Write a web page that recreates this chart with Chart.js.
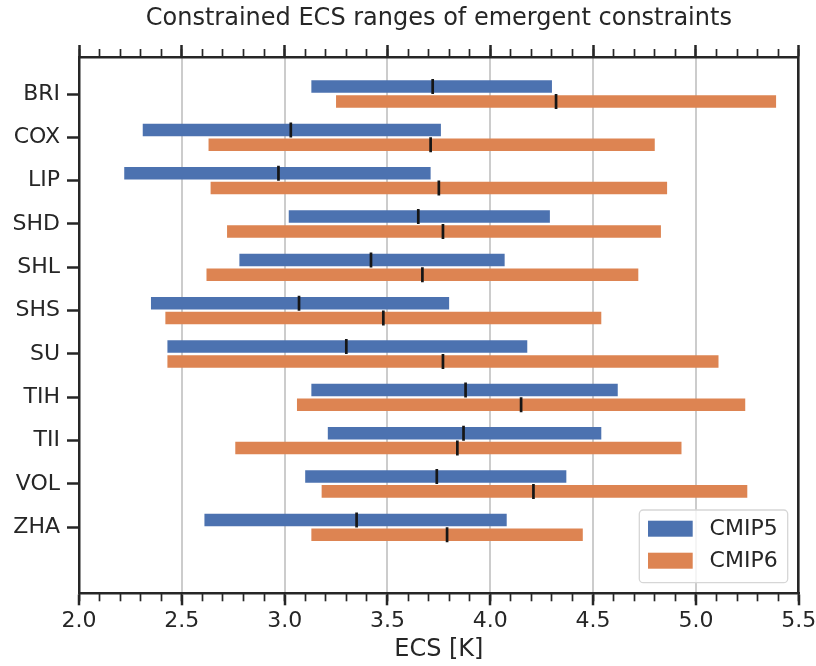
<!DOCTYPE html>
<html lang="en">
<head>
<meta charset="UTF-8">
<title>Constrained ECS ranges of emergent constraints</title>
<script src="https://cdn.jsdelivr.net/npm/chart.js"></script>
<style>
  html, body { margin: 0; padding: 0; background: #fff; }
</style>
</head>
<body>
<canvas id="chart" width="816" height="666"></canvas>
<script>
const categories = ['BRI', 'COX', 'LIP', 'SHD', 'SHL', 'SHS', 'SU', 'TIH', 'TII', 'VOL', 'ZHA'];

const cmip5Low  = [3.13, 2.31, 2.22, 3.02, 2.78, 2.35, 2.43, 3.13, 3.21, 3.10, 2.61];
const cmip5High = [4.30, 3.76, 3.71, 4.29, 4.07, 3.80, 4.18, 4.62, 4.54, 4.37, 4.08];
const cmip5Best = [3.72, 3.03, 2.97, 3.65, 3.42, 3.07, 3.30, 3.88, 3.87, 3.74, 3.35];

const cmip6Low  = [3.25, 2.63, 2.64, 2.72, 2.62, 2.42, 2.43, 3.06, 2.76, 3.18, 3.13];
const cmip6High = [5.39, 4.80, 4.86, 4.83, 4.72, 4.54, 5.11, 5.24, 4.93, 5.25, 4.45];
const cmip6Best = [4.32, 3.71, 3.75, 3.77, 3.67, 3.48, 3.77, 4.15, 3.84, 4.21, 3.79];

const xTicks = [2.0, 2.5, 3.0, 3.5, 4.0, 4.5, 5.0, 5.5];

const dark = '#262626';
const catPct = 0.683;
const barPct = 0.845;
// half of a bar slot, in category units, so the best-estimate marks sit on the bars
const markOffset = catPct / 4;

Chart.defaults.font.family = "'DejaVu Sans', sans-serif";
Chart.defaults.color = dark;

function rangeData(low, high) {
  return categories.map((c, i) => ({ x: [low[i], high[i]], y: i }));
}

function bestData(best, side) {
  return categories.map((c, i) => ({ x: best[i], y: i + side * markOffset }));
}

function minorAxis(position) {
  return {
    type: 'linear', position: position, min: 2, max: 5.5, weight: -1,
    afterFit: axis => { axis.height = 0; },
    ticks: { display: false, stepSize: 0.1, maxTicksLimit: 100, autoSkip: false },
    grid: { drawOnChartArea: false, tickLength: 8, tickWidth: 1.7, tickColor: dark },
    border: { display: false }
  };
}

const legendBox = {
  id: 'legendBox',
  afterDraw(chart) {
    const { ctx, chartArea } = chart;
    const w = 148.4, h = 72.7;
    const bx = chartArea.right - 11 - w;
    const by = chartArea.bottom - 10.6 - h;
    ctx.save();
    ctx.beginPath();
    ctx.roundRect(bx, by, w, h, 4);
    ctx.fillStyle = 'rgba(255,255,255,0.8)';
    ctx.fill();
    ctx.lineWidth = 1.3;
    ctx.strokeStyle = '#d6d6d6';
    ctx.stroke();
    let row = 0;
    chart.data.datasets.forEach((ds, i) => {
      if (chart.getDatasetMeta(i).type !== 'bar') return;
      const cy = by + 18.7 + row * 32;
      ctx.fillStyle = ds.backgroundColor;
      ctx.fillRect(bx + 8.7, cy - 8, 44.7, 16);
      ctx.fillStyle = dark;
      ctx.font = "22px 'DejaVu Sans'";
      ctx.textBaseline = 'middle';
      ctx.textAlign = 'left';
      ctx.fillText(ds.label, bx + 70.3, cy + 1);
      row++;
    });
    ctx.restore();
  }
};

new Chart(document.getElementById('chart'), {
  type: 'bar',
  data: {
    datasets: [
      {
        type: 'scatter', label: 'CMIP5 best', data: bestData(cmip5Best, -1), order: -1,
        xAxisID: 'x', yAxisID: 'y',
        pointStyle: 'line', rotation: 90, radius: 7.5, borderWidth: 2.7, borderColor: '#161616'
      },
      {
        type: 'scatter', label: 'CMIP6 best', data: bestData(cmip6Best, 1), order: -1,
        xAxisID: 'x', yAxisID: 'y',
        pointStyle: 'line', rotation: 90, radius: 7.5, borderWidth: 2.7, borderColor: '#161616'
      },
      {
        type: 'bar', label: 'CMIP5', data: rangeData(cmip5Low, cmip5High),
        xAxisID: 'x', yAxisID: 'y',
        backgroundColor: '#4c72b0', categoryPercentage: catPct, barPercentage: barPct
      },
      {
        type: 'bar', label: 'CMIP6', data: rangeData(cmip6Low, cmip6High),
        xAxisID: 'x', yAxisID: 'y',
        backgroundColor: '#dd8452', categoryPercentage: catPct, barPercentage: barPct
      }
    ]
  },
  options: {
    indexAxis: 'y',
    responsive: false,
    animation: false,
    events: [],
    layout: { padding: { left: 0, right: 0, top: 0, bottom: 0 } },
    plugins: {
      legend: { display: false },
      tooltip: { enabled: false },
      title: {
        display: true, fullSize: false,
        text: 'Constrained ECS ranges of emergent constraints',
        font: { size: 24, weight: 'normal' }, color: dark,
        padding: { top: 4.6, bottom: 11.6 }
      }
    },
    scales: {
      x: {
        type: 'linear', position: 'bottom', min: 2, max: 5.5,
        afterBuildTicks: axis => { axis.ticks = xTicks.map(v => ({ value: v })); },
        afterFit: axis => { axis.paddingRight = 17.3; axis.paddingLeft = 0; axis.height = 72.7; },
        ticks: { font: { size: 22 }, color: dark, padding: 3, autoSkip: false, maxRotation: 0,
                 callback: v => v.toFixed(1) },
        grid: { color: '#cccccc', lineWidth: 2, tickLength: 12, tickWidth: 2.5, tickColor: dark },
        border: { color: dark, width: 2.5 },
        title: { display: true, text: 'ECS [K]', font: { size: 24 }, color: dark,
                 padding: { top: 1, bottom: 1.5 } }
      },
      y: {
        type: 'linear', position: 'left', min: -0.854, max: 11.523, reverse: true, offset: false,
        afterBuildTicks: axis => { axis.ticks = categories.map((c, i) => ({ value: i })); },
        afterFit: axis => { axis.width = 79; },
        ticks: { font: { size: 22 }, color: dark, padding: 7, autoSkip: false,
                 callback: v => categories[v] },
        grid: { offset: false, drawOnChartArea: false, tickLength: 12, tickWidth: 2.5, tickColor: dark },
        border: { color: dark, width: 2.5 }
      },
      xTop: {
        type: 'linear', position: 'top', min: 2, max: 5.5,
        afterBuildTicks: axis => { axis.ticks = xTicks.map(v => ({ value: v })); },
        ticks: { display: false },
        grid: { drawOnChartArea: false, tickLength: 12, tickWidth: 2.5, tickColor: dark },
        border: { color: dark, width: 2.5 }
      },
      xMinor: minorAxis('bottom'),
      xTopMinor: minorAxis('top'),
      yRight: {
        type: 'linear', position: 'right', min: 0, max: 1, offset: false,
        ticks: { display: false },
        grid: { offset: false, drawOnChartArea: false, drawTicks: false },
        border: { color: dark, width: 2.5 }
      }
    }
  },
  plugins: [legendBox]
});
</script>
</body>
</html>
